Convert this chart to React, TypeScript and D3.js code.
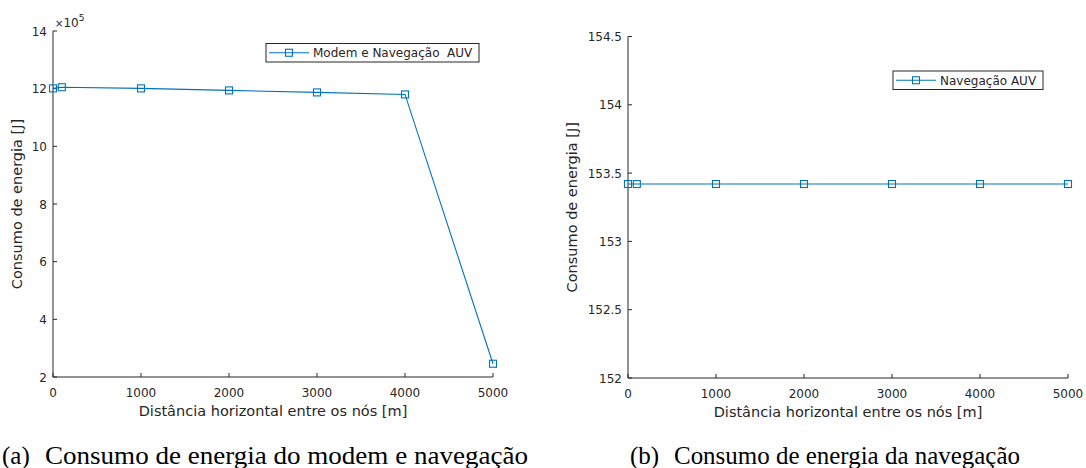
import React from "react";
import * as d3 from "d3";

const distances = [0, 100, 1000, 2000, 3000, 4000, 5000];
const modemNavEnergy = [12.01, 12.05, 12.01, 11.94, 11.87, 11.8, 2.46]; // x10^5 J
const navEnergy = [153.42, 153.42, 153.42, 153.42, 153.42, 153.42, 153.42];
const xTicks = [0, 1000, 2000, 3000, 4000, 5000];
const yTicksA = [2, 4, 6, 8, 10, 12, 14];
const yTicksB = [152, 152.5, 153, 153.5, 154, 154.5];

const BLUE = "#0072BD";
const AX = "#262626";
const FONT = "DejaVu Sans, sans-serif";
const SERIF = "'Liberation Serif', 'Times New Roman', serif";

type PanelProps = {
  x0: number; x1: number; yTop: number; yBot: number;
  yDomain: [number, number]; yTicks: number[]; values: number[];
  legend: string; legX: number; legY: number; legW: number; legLine: number;
  ylabX: number; capTag: string; caption: string; capX: number; capTextX: number; capW: number; exp?: boolean;
};

function Panel(p: PanelProps) {
  const x = d3.scaleLinear().domain([0, 5000]).range([p.x0, p.x1]);
  const y = d3.scaleLinear().domain(p.yDomain).range([p.yBot, p.yTop]);
  const line = d3.line<number>().x((_, i) => x(distances[i])).y((v) => y(v));
  const ms = 7;
  const legH = 18.5;
  return (
    <g>
      <line x1={p.x0} x2={p.x1} y1={p.yBot} y2={p.yBot} stroke={AX} strokeWidth={1} />
      <line x1={p.x0} x2={p.x0} y1={p.yTop} y2={p.yBot} stroke={AX} strokeWidth={1} />
      {xTicks.map((t) => (
        <g key={"x" + t}>
          <line x1={x(t)} x2={x(t)} y1={p.yBot} y2={p.yBot - 4} stroke={AX} />
          <text x={x(t)} y={p.yBot + 20} textAnchor="middle" fontSize={12} fill={AX} fontFamily={FONT}>{t}</text>
        </g>
      ))}
      {p.yTicks.map((t) => (
        <g key={"y" + t}>
          <line x1={p.x0} x2={p.x0 + 4} y1={y(t)} y2={y(t)} stroke={AX} />
          <text x={p.x0 - 6} y={y(t) + 4.5} textAnchor="end" fontSize={12} fill={AX} fontFamily={FONT}>{String(t)}</text>
        </g>
      ))}
      {p.exp && (
        <text x={p.x0 + 2} y={p.yTop - 4} fontSize={12} fill={AX} fontFamily={FONT}>
          <tspan fontSize={10}>×</tspan>10<tspan fontSize={9} dy={-6}>5</tspan>
        </text>
      )}
      <text transform={`translate(${p.ylabX},${(p.yTop + p.yBot) / 2}) rotate(-90)`} textAnchor="middle" fontSize={14.5} fill={AX} fontFamily={FONT}>Consumo de energia [J]</text>
      <text x={(p.x0 + p.x1) / 2} y={p.yBot + 39} textAnchor="middle" fontSize={14.5} fill={AX} fontFamily={FONT}>Distância horizontal entre os nós [m]</text>
      <path d={line(p.values) || ""} fill="none" stroke={BLUE} strokeWidth={1.1} />
      {p.values.map((v, i) => (
        <rect key={i} x={x(distances[i]) - ms / 2} y={y(v) - ms / 2} width={ms} height={ms} fill="none" stroke={BLUE} strokeWidth={1.1} />
      ))}
      <rect x={p.legX} y={p.legY} width={p.legW} height={legH} fill="white" stroke={AX} strokeWidth={1} />
      <line x1={p.legX + 3} x2={p.legX + 3 + p.legLine} y1={p.legY + legH / 2} y2={p.legY + legH / 2} stroke={BLUE} strokeWidth={1.1} />
      <rect x={p.legX + 3 + p.legLine / 2 - ms / 2} y={p.legY + legH / 2 - ms / 2} width={ms} height={ms} fill="none" stroke={BLUE} strokeWidth={1.1} />
      <text x={p.legX + p.legLine + 7} y={p.legY + 13.5} fontSize={12} fill={AX} fontFamily={FONT} style={{ whiteSpace: "pre" }}>{p.legend}</text>
      <text x={p.capX} y={464} fontSize={25} fill="#000" fontFamily={SERIF}>{p.capTag}</text>
      <text x={p.capTextX} y={464} fontSize={25} fill="#000" fontFamily={SERIF} textLength={p.capW} lengthAdjust="spacingAndGlyphs">{p.caption}</text>
    </g>
  );
}

export default function App() {
  return (
    <svg width={1086} height={468} style={{ position: "absolute", left: 0, top: 0, background: "white" }}>
      <rect width={1086} height={468} fill="white" />
      <Panel x0={53} x1={493} yTop={31} yBot={377} yDomain={[2, 14]} yTicks={yTicksA} values={modemNavEnergy}
        legend={"Modem e Navegação  AUV"} legX={266} legY={43.5} legW={213} legLine={40} ylabX={22}
        capTag="(a)" caption="Consumo de energia do modem e navegação" capX={2} capTextX={45} capW={483} exp />
      <Panel x0={628} x1={1068} yTop={36.5} yBot={378} yDomain={[152, 154.5]} yTicks={yTicksB} values={navEnergy}
        legend="Navegação AUV" legX={893} legY={71} legW={150} legLine={40} ylabX={577}
        capTag="(b)" caption="Consumo de energia da navegação" capX={630} capTextX={674} capW={346} />
    </svg>
  );
}
